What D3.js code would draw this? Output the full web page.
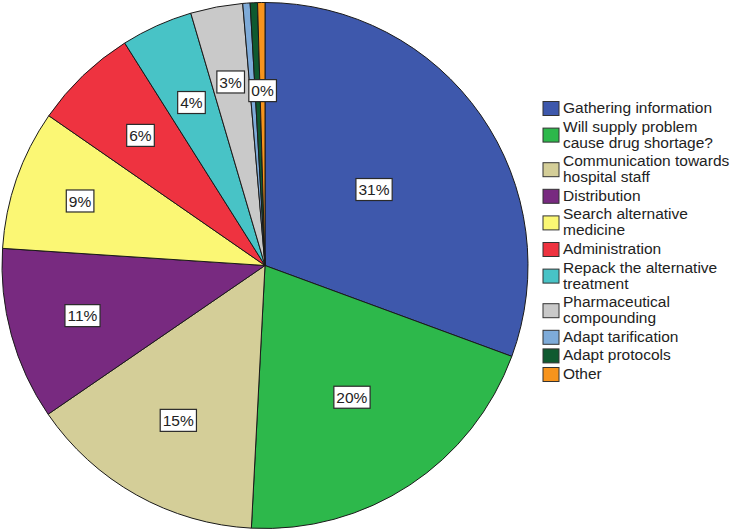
<!DOCTYPE html>
<meta charset="utf-8">
<style>
    body { margin: 0; background: #fff; }
    svg { display: block; }
    .slices path { stroke: #1a1a1a; stroke-width: 1px; }
    .labels rect { fill: #fff; stroke: #2a2a2a; stroke-width: 1.2px; }
    text { font-family: "Liberation Sans", Arial, sans-serif; font-size: 15.5px; fill: #222; }
    .legend rect { stroke: #333; stroke-width: 1px; }
</style>
<svg width="733" height="531"></svg>
<script src="https://d3js.org/d3.v7.min.js"></script>
<script>
    // slice categories (legend order = drawing order, clockwise from 12 o'clock)
    var categories = [
        "Gathering information",
        "Will supply problem cause drug shortage?",
        "Communication towards hospital staff",
        "Distribution",
        "Search alternative medicine",
        "Administration",
        "Repack the alternative treatment",
        "Pharmaceutical compounding",
        "Adapt tarification",
        "Adapt protocols",
        "Other"
    ];
    // legend text split into lines, as in the original
    var legendLines = [
        ["Gathering information"],
        ["Will supply problem", "cause drug shortage?"],
        ["Communication towards", "hospital staff"],
        ["Distribution"],
        ["Search alternative", "medicine"],
        ["Administration"],
        ["Repack the alternative", "treatment"],
        ["Pharmaceutical", "compounding"],
        ["Adapt tarification"],
        ["Adapt protocols"],
        ["Other"]
    ];
    // share of answers (percent)
    var values = [30.6, 20.2, 14.6, 10.6, 8.6, 6.4, 4.4, 3.2, 0.45, 0.45, 0.45];

    var colours = ["#3e58ac", "#2db84b", "#d4ce98", "#782a80", "#fbf774", "#ee3340",
                   "#48c3c6", "#c9c9c9", "#7eabd9", "#0f5a30", "#f7941d"];

    var svg = d3.select("svg");
    var cx = 265, cy = 265.5, radius = 263;

    var total = d3.sum(values);
    var pie = d3.pie().sort(null).value(function (d) { return d; });
    var arcs = pie(values);
    var arc = d3.arc().innerRadius(0).outerRadius(radius);

    var g = svg.append("g").attr("transform", "translate(" + cx + "," + cy + ")");

    g.append("g").attr("class", "slices")
        .selectAll("path")
        .data(arcs)
        .enter()
        .append("path")
        .attr("d", arc)
        .attr("fill", function (d, i) { return colours[i]; });

    // labels sit at different distances from the centre, like SPSS does
    var labelR = [0.505, 0.6, 0.675, 0.72, 0.745, 0.685, 0.68, 0.71, 0, 0, 0.665];
    var labelled = arcs.filter(function (d, i) { return labelR[i] > 0; });

    var lab = g.append("g").attr("class", "labels")
        .selectAll("g")
        .data(labelled)
        .enter()
        .append("g")
        .attr("transform", function (d) {
            var r = labelR[d.index] * radius;
            var a = (d.startAngle + d.endAngle) / 2;
            return "translate(" + (r * Math.sin(a)) + "," + (-r * Math.cos(a)) + ")";
        });

    lab.append("text")
        .attr("text-anchor", "middle")
        .attr("dy", "0.36em")
        .text(function (d) { return Math.round(d.value / total * 100) + "%"; });

    lab.each(function () {
        var t = d3.select(this).select("text");
        var bb = t.node().getBBox();
        d3.select(this).insert("rect", "text")
            .attr("x", bb.x - 2.5)
            .attr("y", -11)
            .attr("width", bb.width + 5)
            .attr("height", 22);
    });

    // legend
    var lineH = 16, itemGap = 2.6, legX = 543, firstBase = 113;
    var legend = svg.append("g").attr("class", "legend");
    var y = firstBase;
    legendLines.forEach(function (lines, i) {
        var item = legend.append("g");
        lines.forEach(function (s, j) {
            item.append("text")
                .attr("x", legX + 20)
                .attr("y", y + j * lineH)
                .text(s);
        });
        var mid = y - 5.5 + (lines.length - 1) * lineH / 2 + 1;
        item.append("rect")
            .attr("x", legX)
            .attr("y", mid - 7)
            .attr("width", 16)
            .attr("height", 14)
            .attr("fill", colours[i]);
        y += lines.length * lineH + itemGap;
    });
</script>
